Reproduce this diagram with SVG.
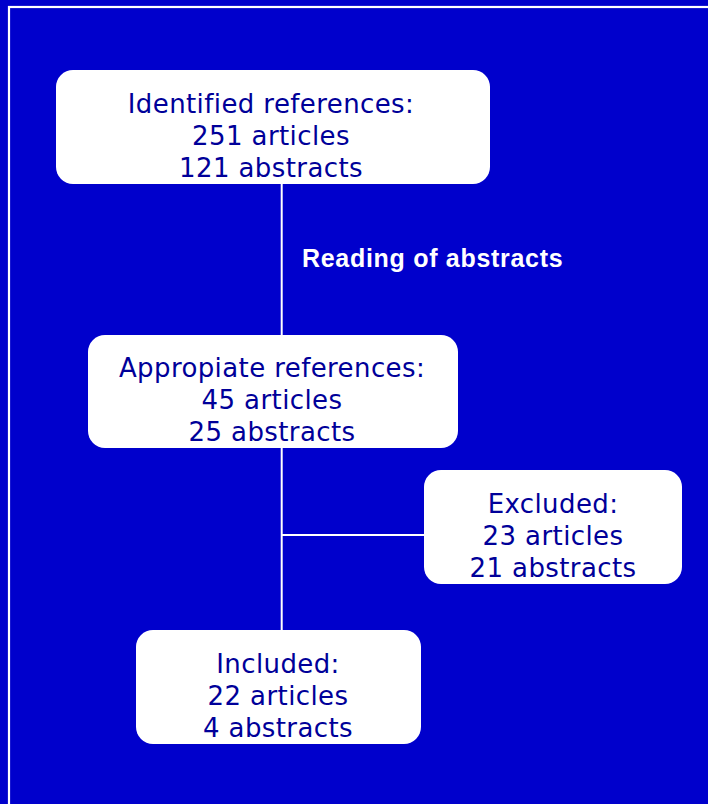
<svg xmlns="http://www.w3.org/2000/svg" width="708" height="804" viewBox="0 0 708 804">
<style>
.box{fill:#ffffff;}
.t{font-family:"DejaVu Sans",Verdana,sans-serif;font-size:26px;letter-spacing:0.4px;fill:#000099;text-anchor:middle;}
.lbl{font-family:"Liberation Sans",Arial,sans-serif;font-size:25px;letter-spacing:0.7px;font-weight:bold;fill:#ffffff;}
.c{stroke:#ffffff;stroke-width:2;fill:none;}
</style>
<rect x="0" y="0" width="708" height="804" fill="#0000cc"/>
<rect x="9" y="7" width="720" height="820" fill="none" stroke="#ffffff" stroke-width="2.2"/>
<g id="connectors">
<line class="c" x1="281.7" y1="184" x2="281.7" y2="335"/>
<line class="c" x1="281.7" y1="448" x2="281.7" y2="630"/>
<line class="c" x1="281.7" y1="535" x2="424" y2="535"/>
<text class="lbl" x="302" y="267">Reading of abstracts</text>
</g>
<g id="identified">
<rect class="box" x="56" y="70" width="434" height="114" rx="17"/>
<text class="t" x="271" y="113">Identified references:</text>
<text class="t" x="271" y="145">251 articles</text>
<text class="t" x="271" y="177">121 abstracts</text>
</g>
<g id="appropriate">
<rect class="box" x="88" y="335" width="370" height="113" rx="17"/>
<text class="t" x="272" y="377">Appropiate references:</text>
<text class="t" x="272" y="409">45 articles</text>
<text class="t" x="272" y="441">25 abstracts</text>
</g>
<g id="excluded">
<rect class="box" x="424" y="470" width="258" height="114" rx="17"/>
<text class="t" x="553" y="513">Excluded:</text>
<text class="t" x="553" y="545">23 articles</text>
<text class="t" x="553" y="577">21 abstracts</text>
</g>
<g id="included">
<rect class="box" x="136" y="630" width="285" height="114" rx="17"/>
<text class="t" x="278" y="673">Included:</text>
<text class="t" x="278" y="705">22 articles</text>
<text class="t" x="278" y="737">4 abstracts</text>
</g>
</svg>
